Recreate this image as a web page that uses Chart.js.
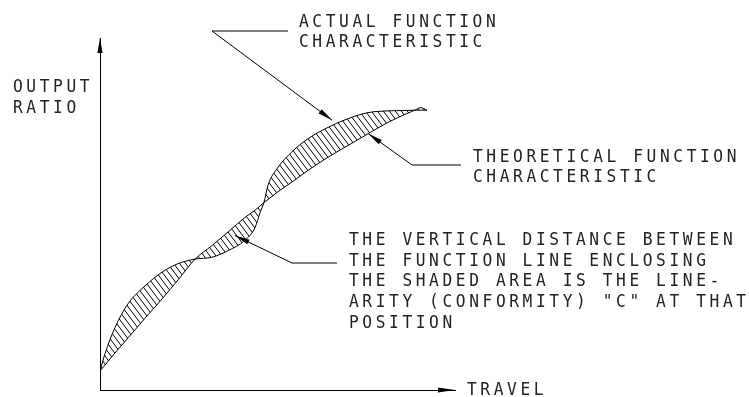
<!DOCTYPE html>
<html>
<head>
<meta charset="utf-8">
<script src="https://cdn.jsdelivr.net/npm/chart.js@4.4.1/dist/chart.umd.min.js"></script>
<style>
  html, body { margin: 0; padding: 0; background: #fff; }
  canvas { display: block; }
</style>
</head>
<body>
<canvas id="grafico" width="749" height="397"></canvas>
<script>
// travel position (% of full travel) shared by both curves
const travel = [0, 1.4, 4.2, 7.9, 12.7, 17.5, 22.0, 26.8, 31.5, 36.1, 40.8, 43.7, 45.1, 46.2,
  47.3, 50.1, 54.1, 58.6, 64.2, 69.9, 75.5, 81.1, 85.9, 88.7, 90.4, 92.1];

// output ratio (%) of the theoretical (smooth) characteristic
const theoretical = [5.4, 7.1, 10.5, 14.8, 20.4, 25.9, 31.3, 37.2, 41.0, 44.9, 49.0, 51.1, 52.3, 53.3,
  54.1, 56.3, 59.1, 62.4, 66.1, 69.5, 72.8, 76.0, 78.3, 79.5, 80.2, 79.5];

// output ratio (%) of the actual (wavy) characteristic
const actual = [5.4, 10.3, 17.7, 24.5, 29.6, 33.5, 35.9, 37.2, 37.7, 39.6, 42.5, 46.2, 50.4, 53.3,
  58.1, 63.2, 67.7, 71.4, 74.6, 77.1, 78.8, 79.3, 79.4, 79.5, 79.5, 79.5];

const axisLabels = { y: ["OUTPUT", "RATIO"], x: ["TRAVEL"] };
const actualText = ["ACTUAL FUNCTION", "CHARACTERISTIC"];
const theoreticalText = ["THEORETICAL FUNCTION", "CHARACTERISTIC"];
const linearityText = [
  "THE VERTICAL DISTANCE BETWEEN",
  "THE FUNCTION LINE ENCLOSING",
  "THE SHADED AREA IS THE LINE-",
  "ARITY (CONFORMITY) \"C\" AT THAT",
  "POSITION"
];

// where the leader arrows point (data units)
const actualTip = [65.4, 76.6];
const theoreticalTip = [75.5, 72.9];
const linearityTip = [38.0, 43.9];

//hachura diagonal entre as duas curvas
function hachura() {
  const tile = document.createElement("canvas");
  tile.width = 6;
  tile.height = 8;
  const t = tile.getContext("2d");
  t.strokeStyle = "#000";
  t.lineWidth = 1;
  t.beginPath();
  for (let k = -1; k <= 1; k++) {
    t.moveTo(k * 6, 0);
    t.lineTo(k * 6 + 6, 8);
  }
  t.stroke();
  return t.createPattern(tile, "repeat");
}

function seta(ctx, x0, y0, x1, y1, len, half) {
  const a = Math.atan2(y1 - y0, x1 - x0);
  ctx.beginPath();
  ctx.moveTo(x1, y1);
  ctx.lineTo(x1 - len * Math.cos(a) + half * Math.sin(a), y1 - len * Math.sin(a) - half * Math.cos(a));
  ctx.lineTo(x1 - len * Math.cos(a) - half * Math.sin(a), y1 - len * Math.sin(a) + half * Math.cos(a));
  ctx.closePath();
  ctx.fill();
}

//texto estreito, parecido com a letra de desenho técnico
function texto(ctx, linhas, x, y0, passo) {
  linhas.forEach((l, i) => {
    ctx.save();
    ctx.translate(x, y0 + i * passo);
    ctx.scale(0.9, 1);
    ctx.fillText(l, 0, 0);
    ctx.restore();
  });
}

const anotacoes = {
  id: "anotacoes",
  afterDraw(chart) {
    const { ctx, chartArea: area, scales } = chart;
    ctx.save();
    ctx.fillStyle = "#000";
    ctx.strokeStyle = "#000";
    ctx.lineWidth = 1;

    // axis arrowheads
    seta(ctx, area.left, area.top + 20, area.left, area.top, 15, 2.6);
    seta(ctx, area.right - 20, area.bottom, area.right, area.bottom, 17, 2.6);

    // leaders: elbow -> text end, elbow -> tip on the curve
    const leaders = [
      { tip: actualTip, elbow: [212, 31], end: [288, 31] },
      { tip: theoreticalTip, elbow: [412, 165], end: [461, 165] },
      { tip: linearityTip, elbow: [292, 263], end: [337, 263] }
    ];
    leaders.forEach((l) => {
      const tx = scales.x.getPixelForValue(l.tip[0]);
      const ty = scales.y.getPixelForValue(l.tip[1]);
      ctx.beginPath();
      ctx.moveTo(l.end[0], l.end[1]);
      ctx.lineTo(l.elbow[0], l.elbow[1]);
      ctx.lineTo(tx, ty);
      ctx.stroke();
      seta(ctx, l.elbow[0], l.elbow[1], tx, ty, 15, 2.6);
    });

    // texts
    ctx.fillStyle = "#222";
    ctx.font = "18px 'DejaVu Sans Mono'";
    ctx.letterSpacing = "4px";
    ctx.textBaseline = "alphabetic";
    texto(ctx, axisLabels.y, 13, 92.3, 20.7);
    texto(ctx, axisLabels.x, 467, 395, 20.7);
    texto(ctx, actualText, 299, 26.7, 20.7);
    texto(ctx, theoreticalText, 473, 161.7, 20.7);
    texto(ctx, linearityText, 349, 245, 20.7);
    ctx.restore();
  }
};

new Chart(document.getElementById("grafico"), {
  type: "line",
  data: {
    datasets: [
      {
        label: "Theoretical",
        data: travel.map((x, i) => ({ x: x, y: theoretical[i] })),
        borderColor: "#000",
        borderWidth: 1,
        pointRadius: 0,
        cubicInterpolationMode: "monotone",
        fill: false,
      },
      {
        label: "Actual",
        data: travel.map((x, i) => ({ x: x, y: actual[i] })),
        borderColor: "#000",
        borderWidth: 1,
        pointRadius: 0,
        cubicInterpolationMode: "monotone",
        fill: { target: 0 },
        backgroundColor: hachura(),
      },
    ],
  },
  options: {
    responsive: false,
    animation: false,
    layout: {
      padding: { left: 100, right: 294, top: 38, bottom: 7 },
    },
    plugins: {
      legend: { display: false },
      tooltip: { enabled: false },
    },
    scales: {
      x: {
        type: "linear",
        min: 0,
        max: 100,
        ticks: { display: false },
        grid: { display: false, drawTicks: false },
        border: { display: true, color: "#000", width: 1 },
      },
      y: {
        type: "linear",
        min: 0,
        max: 100,
        ticks: { display: false },
        grid: { display: false, drawTicks: false },
        border: { display: true, color: "#000", width: 1 },
      },
    },
  },
  plugins: [anotacoes],
});
</script>
</body>
</html>
